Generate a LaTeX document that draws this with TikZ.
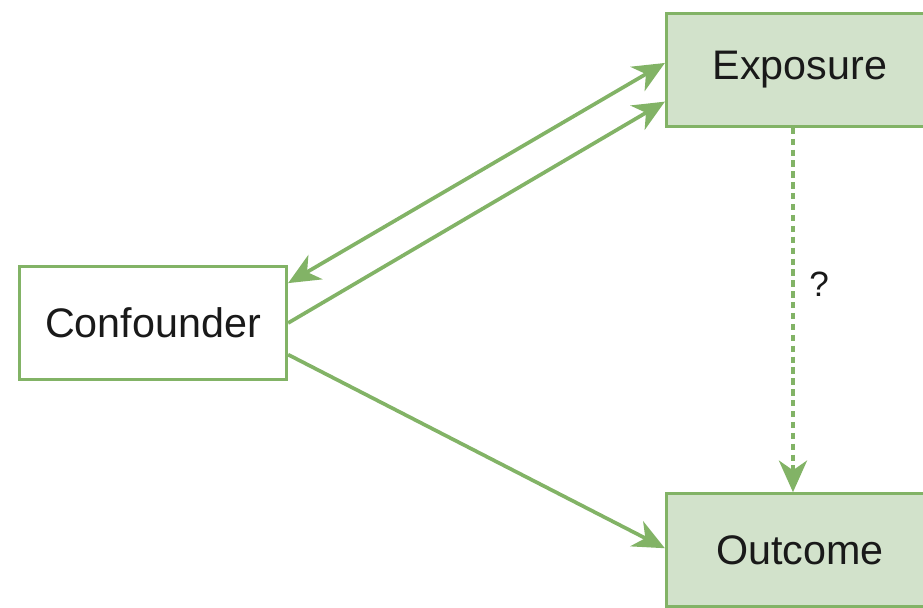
\documentclass[tikz,border=0pt]{standalone}
\usepackage{fontspec}
\setmainfont{Liberation Sans}
\usepackage{xcolor}
\usetikzlibrary{arrows.meta}

\definecolor{boxgreen}{HTML}{82B366}
\definecolor{boxfill}{HTML}{D2E2CB}

\tikzset{
  var/.style={draw=boxgreen, line width=1.8pt, minimum width=152pt, minimum height=64pt,
    font=\fontsize{23.5}{28}\selectfont, text=black!90},
  varfilled/.style={var, fill=boxfill},
  link/.style={draw=boxgreen, line width=2.1pt, -{Stealth[length=18pt, width=16pt, inset=5.5pt]}}
}

\begin{document}
\begin{tikzpicture}[x=0.02cm, y=-0.02cm]
%\draw[step=50,gray,very thin] (0,0) grid (923,608); %background grid
\useasboundingbox (0,0) rectangle (923,608);
\node[var] (conf) at (153,323) {Confounder};
\node[varfilled] (expo) at (800,70) {Exposure};
\node[varfilled] (outc) at (800,550) {Outcome};
\draw[link, {Stealth[length=18pt, width=16pt, inset=5.5pt]}-{Stealth[length=18pt, width=16pt, inset=5.5pt]}] ([yshift=22.7pt]conf.east) -- ([yshift=4pt]expo.west);
\draw[link] (conf.east) -- ([yshift=-18pt]expo.west);
\draw[link] ([yshift=-18pt]conf.east) -- ([yshift=1pt]outc.west);
\draw[link, dash pattern=on 3.6pt off 2.6pt] ([xshift=-4pt]expo.south) -- node[pos=0.43, right=5pt, font=\fontsize{20}{24}\selectfont, text=black!90] (q) {?} ([xshift=-4pt]outc.north);
\end{tikzpicture}
\end{document}
